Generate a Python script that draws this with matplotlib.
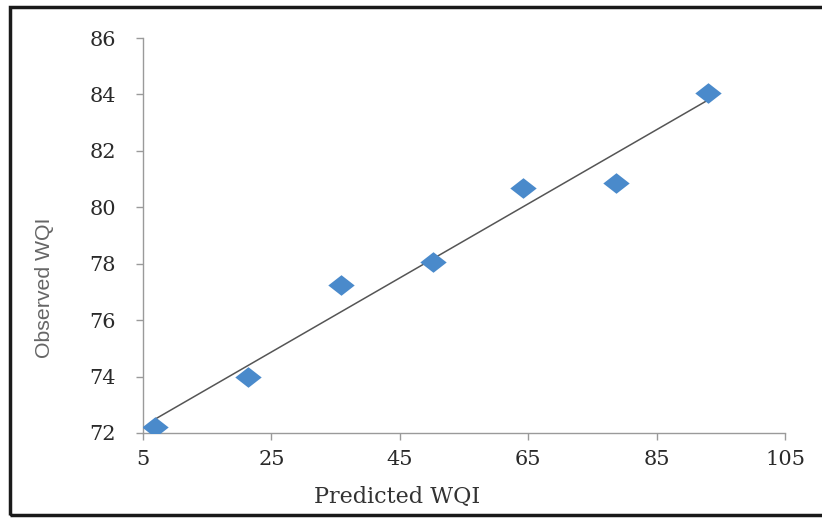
import matplotlib
matplotlib.use("Agg")
import matplotlib.pyplot as plt
import numpy as np
from matplotlib.patches import Rectangle
from matplotlib.path import Path

predicted = [6.9, 21.4, 35.8, 50.2, 64.2, 78.7, 93.0]
observed = [72.2, 74.0, 77.25, 78.05, 80.7, 80.85, 84.05]
x_ticks = [5, 25, 45, 65, 85, 105]
y_ticks = [72, 74, 76, 78, 80, 82, 84, 86]

plt.rcParams['font.family'] = ['DejaVu Serif', 'DejaVu Sans']

fig = plt.figure(figsize=(8.22, 5.18), dpi=100)
ax = fig.add_axes([143/822, 1-433/518, (785-143)/822, (433-38)/518])

# trendline from least squares fit of data
slope, intercept = np.polyfit(predicted, observed, 1)
xs = np.array([min(predicted), max(predicted)])
ax.plot(xs, slope*xs + intercept, color='#555555', lw=1.1, zorder=2)

diamond = Path([(-1, 0), (0, 0.78), (1, 0), (0, -0.78), (-1, 0)],
               [Path.MOVETO, Path.LINETO, Path.LINETO, Path.LINETO, Path.CLOSEPOLY])
ax.plot(predicted, observed, linestyle='none', marker=diamond, markersize=19,
        color='#4A8ACB', markeredgewidth=0, zorder=3)

ax.set_xlim(5, 105)
ax.set_ylim(72, 86)
ax.set_xticks(x_ticks)
ax.set_yticks(y_ticks)
for s in ['top', 'right']:
    ax.spines[s].set_visible(False)
for s in ['left', 'bottom']:
    ax.spines[s].set_color('#9a9a9a')
    ax.spines[s].set_linewidth(1.0)
ax.tick_params(axis='both', direction='out', length=5, width=1, color='#9a9a9a',
               labelsize=15, labelcolor='#2a2a2a')
ax.tick_params(axis='y', pad=14.5)
ax.tick_params(axis='x', pad=7)

fig.text(397/822, 1-497/518, 'Predicted WQI', ha='center', va='center',
         fontsize=16, color='#333333')
fig.text(44/822, 1-288/518, 'Observed WQI', ha='center', va='center',
         rotation=90, fontsize=15.3, color='#666666', family='Liberation Sans')

fig.patches.append(Rectangle((10/822, 3/518), 1.2, 1-10/518, transform=fig.transFigure,
                             fill=False, edgecolor='#1a1a1a', linewidth=2.5))

fig.savefig('out.png', dpi=100)
